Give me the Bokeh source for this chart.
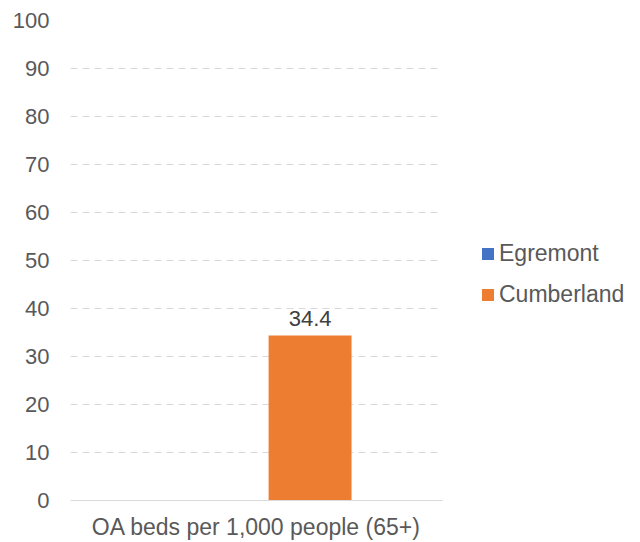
from bokeh.plotting import figure
from bokeh.models import FactorRange, Range1d, Legend, LegendItem, ColumnDataSource, FixedTicker
from bokeh.transform import dodge
from bokeh.core.properties import value
from bokeh.embed import file_html
from bokeh.resources import INLINE

categories = ["OA beds per 1,000 people (65+)"]
series_names = ["Egremont", "Cumberland"]
egremont = [0.0]
cumberland = [34.4]
colors = ["#4472C4", "#ED7D31"]
y_ticks = [0, 10, 20, 30, 40, 50, 60, 70, 80, 90, 100]

FONT = "Liberation Sans"
FS = "22px"
FS_BIG = "23px"

source = ColumnDataSource(data=dict(
    cat=categories,
    egremont=egremont,
    cumberland=cumberland,
    cum_label=["%.1f" % v for v in cumberland],
))

p = figure(
    x_range=FactorRange(*categories, range_padding=0),
    y_range=Range1d(0, 100),
    frame_width=372, frame_height=480,
    min_border_left=70, min_border_right=190,
    min_border_top=20, min_border_bottom=40,
    output_backend="svg", toolbar_location=None,
    background_fill_color="white", border_fill_color="white",
)
p.outline_line_color = None

bw = 0.223
r1 = p.vbar(x=dodge("cat", -0.079, range=p.x_range), top="egremont", width=bw,
            source=source, fill_color=colors[0], line_color=None)
r2 = p.vbar(x=dodge("cat", 0.144, range=p.x_range), top="cumberland", width=bw,
            source=source, fill_color=colors[1], line_color=None)

p.text(x=dodge("cat", 0.144, range=p.x_range), y="cumberland", text="cum_label",
       source=source, text_align="center", text_baseline="bottom", y_offset=-9,
       text_font=value(FONT), text_font_size=FS, text_color="#404040")

# axes
p.yaxis.ticker = FixedTicker(ticks=y_ticks)
p.yaxis.axis_line_color = None
p.yaxis.major_tick_line_color = None
p.yaxis.minor_tick_line_color = None
p.yaxis.major_tick_out = 0
p.yaxis.major_tick_in = 0
p.yaxis.major_label_standoff = 21
p.yaxis.major_label_text_font = FONT
p.yaxis.major_label_text_font_size = FS
p.yaxis.major_label_text_color = "#595959"

p.xaxis.axis_line_color = "#d9d9d9"
p.xaxis.axis_line_width = 1
p.xaxis.major_tick_line_color = None
p.xaxis.minor_tick_line_color = None
p.xaxis.major_tick_out = 0
p.xaxis.major_tick_in = 0
p.xaxis.major_label_standoff = 13
p.xaxis.major_label_text_font = FONT
p.xaxis.major_label_text_font_size = FS_BIG
p.xaxis.major_label_text_color = "#595959"

p.xgrid.grid_line_color = None
p.ygrid.ticker = FixedTicker(ticks=y_ticks)
p.ygrid.grid_line_color = "#d9d9d9"
p.ygrid.grid_line_dash = "7 5"
p.ygrid.grid_line_width = 1

legend = Legend(
    items=[LegendItem(label=series_names[0], renderers=[r1]),
           LegendItem(label=series_names[1], renderers=[r2])],
    location=(38, 192),
    orientation="vertical",
    glyph_width=15, glyph_height=15,
    label_standoff=4,
    label_height=22,
    spacing=14,
    padding=0, margin=0,
    border_line_color=None,
    background_fill_alpha=0,
    label_text_font=FONT,
    label_text_font_size=FS_BIG,
    label_text_color="#595959",
)
p.add_layout(legend, "right")

open("out.html", "w").write(file_html(p, INLINE))
